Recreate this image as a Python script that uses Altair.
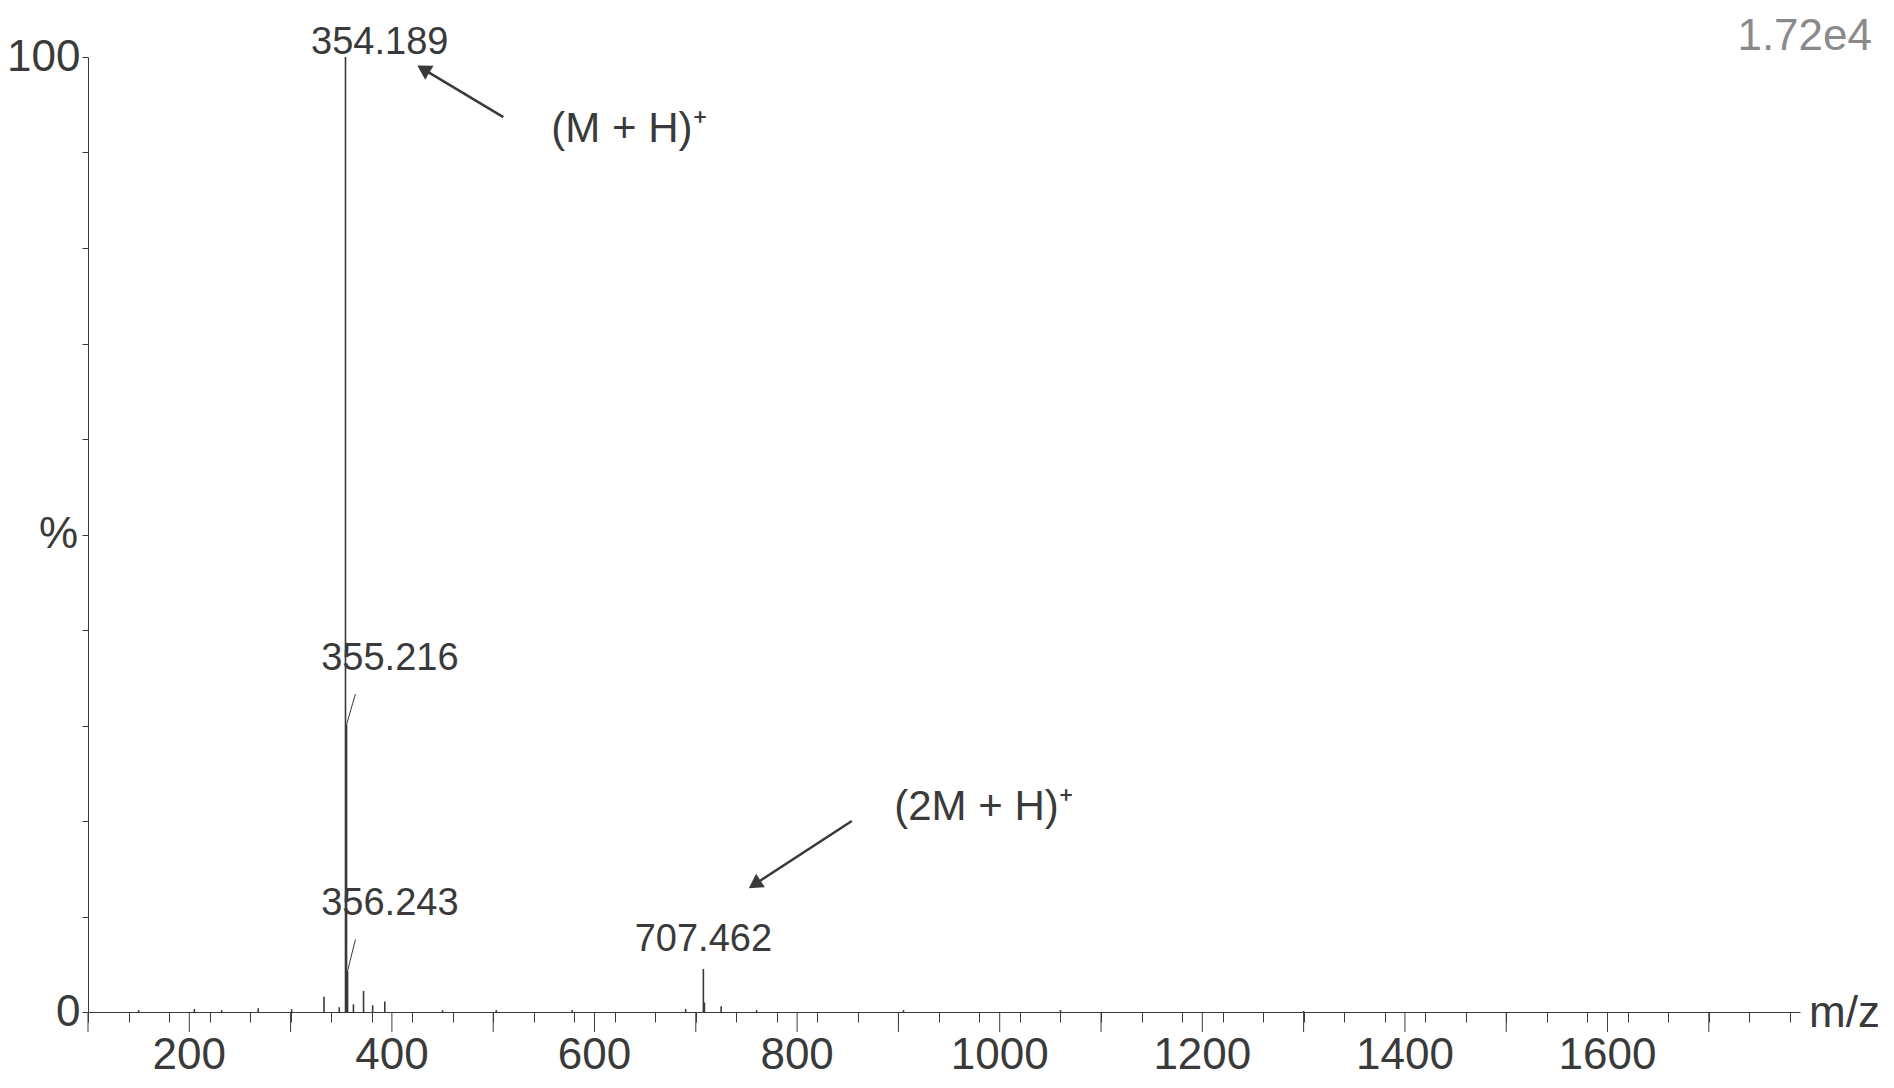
import pandas as pd
import altair as alt

# peak list (m/z, relative intensity %)
mz = [150, 205, 232, 268, 301, 333, 348, 354.189, 355.216, 356.243, 362, 372, 381, 393,
      450, 503, 578, 690, 707.462, 708.5, 725, 760, 905, 1060, 1300]
inten = [0.2, 0.3, 0.2, 0.4, 0.3, 1.6, 0.5, 100, 30.1, 4.3, 0.8, 2.2, 0.7, 1.1,
         0.2, 0.2, 0.2, 0.3, 4.5, 1.0, 0.6, 0.2, 0.2, 0.2, 0.1]

# peak labels: text, peak m/z, label anchor
lab_text = ["354.189", "355.216", "356.243", "707.462"]
lab_mz = [354.189, 355.216, 356.243, 707.462]
lab_y = [100, 30.1, 4.3, 4.5]
lab_x = [388, 398, 398, 707.462]
lab_ty = [99.5, 35, 9.3, 5.5]
lab_lx = [354.189, 364, 364, 707.462]
lab_ly = [100, 33.3, 7.6, 4.5]

# arrows and ion annotations
arr_x = [510, 854]
arr_y = [93.7, 20]
arr_x2 = [433, 760]
arr_y2 = [98.6, 13.5]
ion_text = ["(M + H)⁺", "(2M + H)⁺"]
ion_x = [634, 984]
ion_y = [92.5, 21.5]

tick_labels = list(range(200, 1601, 200))
major = tick_labels + [100, 300, 500, 700, 900, 1100, 1300, 1500, 1700]
minor = list(range(100, 1791, 20))

FONT = "Liberation Sans"
INK = "#3a3a3a"
W, H = 1712, 955
xs = alt.Scale(domain=[100, 1790], nice=False, zero=False)
ys = alt.Scale(domain=[0, 100], nice=False)

peaks = pd.DataFrame({"mz": mz, "i": inten})
labels = pd.DataFrame({"t": lab_text, "mz": lab_mz, "y": lab_y, "lx": lab_x, "ly": lab_ty,
                       "ex": lab_lx, "ey": lab_ly})
arrows = pd.DataFrame({"x": arr_x, "y": arr_y, "x2": arr_x2, "y2": arr_y2})
ions = pd.DataFrame({"t": ion_text, "x": ion_x, "y": ion_y})

x_axis = alt.Axis(values=minor, tickSize=10, grid=False, title=None, labels=False,
                  domainColor=INK, tickColor=INK)
y_axis = alt.Axis(values=list(range(0, 101, 10)),
                  labelExpr="datum.value == 0 || datum.value == 100 ? datum.value : ''",
                  labelOverlap=False, grid=False, title=None, labelFont=FONT,
                  labelFontSize=44, labelColor=INK, tickSize=6, domainColor=INK,
                  tickColor=INK, labelPadding=2, labelFlush=False)

sticks = alt.Chart(peaks).mark_rule(color=INK, strokeWidth=1.6).encode(
    x=alt.X("mz:Q", scale=xs, axis=x_axis),
    y=alt.Y("i:Q", scale=ys, axis=y_axis),
    y2=alt.datum(0),
)
# longer ticks at every 100 m/z, and the m/z tick labels
major_df = pd.DataFrame({"m": major})
major_ticks = alt.Chart(major_df).mark_rule(color=INK, strokeWidth=1).encode(
    x="m:Q", y=alt.value(H), y2=alt.value(H + 20))
x_labels = alt.Chart(pd.DataFrame({"m": tick_labels})).mark_text(
    font=FONT, fontSize=44, color=INK, baseline="top").encode(
    x="m:Q", y=alt.value(H + 22), text=alt.Text("m:Q", format="d"))

leaders = alt.Chart(labels[labels.t.isin(["355.216", "356.243"])]).mark_rule(
    color=INK, strokeWidth=1).encode(x="mz:Q", y="y:Q", x2="ex:Q", y2="ey:Q")

lab_marks = alt.Chart(labels).mark_text(font=FONT, fontSize=38, color=INK,
                                        baseline="bottom").encode(
    x="lx:Q", y="ly:Q", text="t:N")

arrow_lines = alt.Chart(arrows).mark_rule(color=INK, strokeWidth=2.5).encode(
    x="x:Q", y="y:Q", x2="x2:Q", y2="y2:Q")
heads = alt.Chart(arrows).transform_calculate(
    ang="90 - atan2((datum.y2 - datum.y) * 9.55, (datum.x2 - datum.x) * 1.016) * 180 / PI"
).mark_point(shape="triangle", filled=True, color=INK, size=260, opacity=1).encode(
    x="x2:Q", y="y2:Q", angle=alt.Angle("ang:Q", scale=None))

ion_marks = alt.Chart(ions).mark_text(font=FONT, fontSize=42, color=INK).encode(
    x="x:Q", y="y:Q", text="t:N")

extra = pd.DataFrame({"t": ["%", "m/z", "1.72e4"], "px": [-10, W + 80, W + 72],
                      "py": [H / 2, H + 2, -20], "c": [INK, INK, "#8a8a8a"]})
extras = alt.Chart(extra).mark_text(font=FONT, fontSize=44, align="right").encode(
    x=alt.X("px:Q", scale=None), y=alt.Y("py:Q", scale=None), text="t:N",
    color=alt.Color("c:N", scale=None))

chart = alt.layer(sticks, major_ticks, x_labels, leaders, lab_marks, arrow_lines, heads,
                  ion_marks, extras).properties(
    width=W, height=H,
    autosize=alt.AutoSizeParams(type="none"),
    padding={"left": 80, "top": 49, "right": 86, "bottom": 70},
).configure(background="white").configure_view(strokeWidth=0)

chart.save("out.html", embed_options={"renderer": "svg", "actions": False})
